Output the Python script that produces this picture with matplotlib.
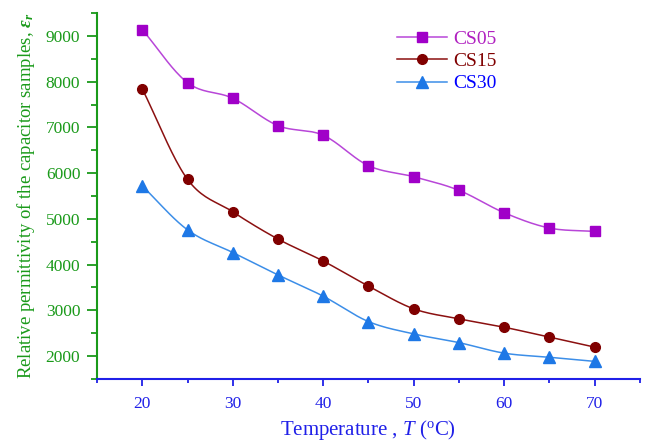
import numpy as np
import matplotlib
matplotlib.use("Agg")
import matplotlib.pyplot as plt
from matplotlib.ticker import MultipleLocator

plt.rcParams['font.family'] = ['Liberation Serif', 'DejaVu Serif']
plt.rcParams['mathtext.fontset'] = 'custom'
plt.rcParams['mathtext.rm'] = 'Liberation Serif'
plt.rcParams['mathtext.it'] = 'Liberation Serif:italic'
plt.rcParams['mathtext.bf'] = 'Liberation Serif:bold:italic'

# data
temperature = [20, 25, 30, 35, 40, 45, 50, 55, 60, 65, 70]
cs05 = [9138, 7978, 7637, 7038, 6828, 6163, 5922, 5624, 5134, 4800, 4727]
cs15 = [7841, 5865, 5155, 4559, 4078, 3531, 3034, 2815, 2632, 2414, 2197]
cs30 = [5720, 4760, 4265, 3775, 3310, 2755, 2485, 2295, 2065, 1975, 1885]
names = ["CS05", "CS15", "CS30"]

line_cols = ["#b846d8", "#8b1010", "#3c8ee8"]
mark_cols = ["#a000c8", "#800000", "#1e78e6"]
text_cols = ["#b020c0", "#800000", "#0000ff"]
markers = ["s", "o", "^"]
msizes = [6.5, 7, 8]
green = "#1a9a1a"
blue = "#2020e8"


def smooth(x, y, n=20):
    # catmull-rom curve through the points, only for drawing the line
    x = np.asarray(x, float)
    y = np.asarray(y, float)
    px = np.concatenate([[2 * x[0] - x[1]], x, [2 * x[-1] - x[-2]]])
    py = np.concatenate([[2 * y[0] - y[1]], y, [2 * y[-1] - y[-2]]])
    xs, ys = [], []
    t = np.linspace(0, 1, n, endpoint=False)
    for i in range(1, len(px) - 2):
        for p, out in ((px, xs), (py, ys)):
            p0, p1, p2, p3 = p[i - 1], p[i], p[i + 1], p[i + 2]
            out.extend(0.5 * (2 * p1 + (-p0 + p2) * t
                              + (2 * p0 - 5 * p1 + 4 * p2 - p3) * t ** 2
                              + (-p0 + 3 * p1 - 3 * p2 + p3) * t ** 3))
    xs.append(x[-1])
    ys.append(y[-1])
    return xs, ys


fig = plt.figure(figsize=(6.49, 4.41), dpi=100)
ax = fig.add_axes([0.1495, 0.1406, 0.8365, 0.8299])

for vals, name, lc, mc, m, ms in zip([cs05, cs15, cs30], names, line_cols, mark_cols, markers, msizes):
    sx, sy = smooth(temperature, vals)
    ax.plot(sx, sy, color=lc, lw=1.1)
    ax.plot(temperature, vals, ls='none', marker=m, ms=ms, color=mc, mec=mc)
    ax.plot([], [], color=lc, lw=1.1, marker=m, ms=ms, mfc=mc, mec=mc, label=name)

ax.set_xlim(15, 75)
ax.set_ylim(1500, 9500)
ax.xaxis.set_major_locator(MultipleLocator(10))
ax.xaxis.set_minor_locator(MultipleLocator(5))
ax.yaxis.set_major_locator(MultipleLocator(1000))
ax.yaxis.set_minor_locator(MultipleLocator(500))

for s in ['top', 'right']:
    ax.spines[s].set_visible(False)
ax.spines['left'].set_color(green)
ax.spines['left'].set_linewidth(1.5)
ax.spines['bottom'].set_color(blue)
ax.spines['bottom'].set_linewidth(1.5)

ax.tick_params(axis='y', which='major', direction='out', length=7, width=1.3,
               color=green, labelcolor=green, labelsize=12.5, pad=5)
ax.tick_params(axis='y', which='minor', direction='out', length=4, width=1.3, color=green)
ax.tick_params(axis='x', which='major', direction='out', length=5, width=1.3,
               color=blue, labelcolor=blue, labelsize=12.5, pad=7)
ax.tick_params(axis='x', which='minor', direction='out', length=3, width=1.3, color=blue)

ax.set_ylabel(r"Relative permittivity of the capacitor samples, $\mathbf{\varepsilon}_{\mathbf{r}}$",
              color=green, fontsize=13.5)
ax.yaxis.set_label_coords(-0.11, 0.5)
ax.set_xlabel(r"Temperature , $\mathit{T}$ ($^{\rm o}$C)", color=blue, fontsize=15, va='baseline')
ax.xaxis.set_label_coords(0.5, -0.153)

leg = ax.legend(loc='upper left', bbox_to_anchor=(0.538, 0.975), frameon=False, borderaxespad=0,
                fontsize=14, handlelength=2.6, handletextpad=0.3, labelspacing=0.25)
for txt, c in zip(leg.get_texts(), text_cols):
    txt.set_color(c)

fig.savefig("out.png", dpi=100)
